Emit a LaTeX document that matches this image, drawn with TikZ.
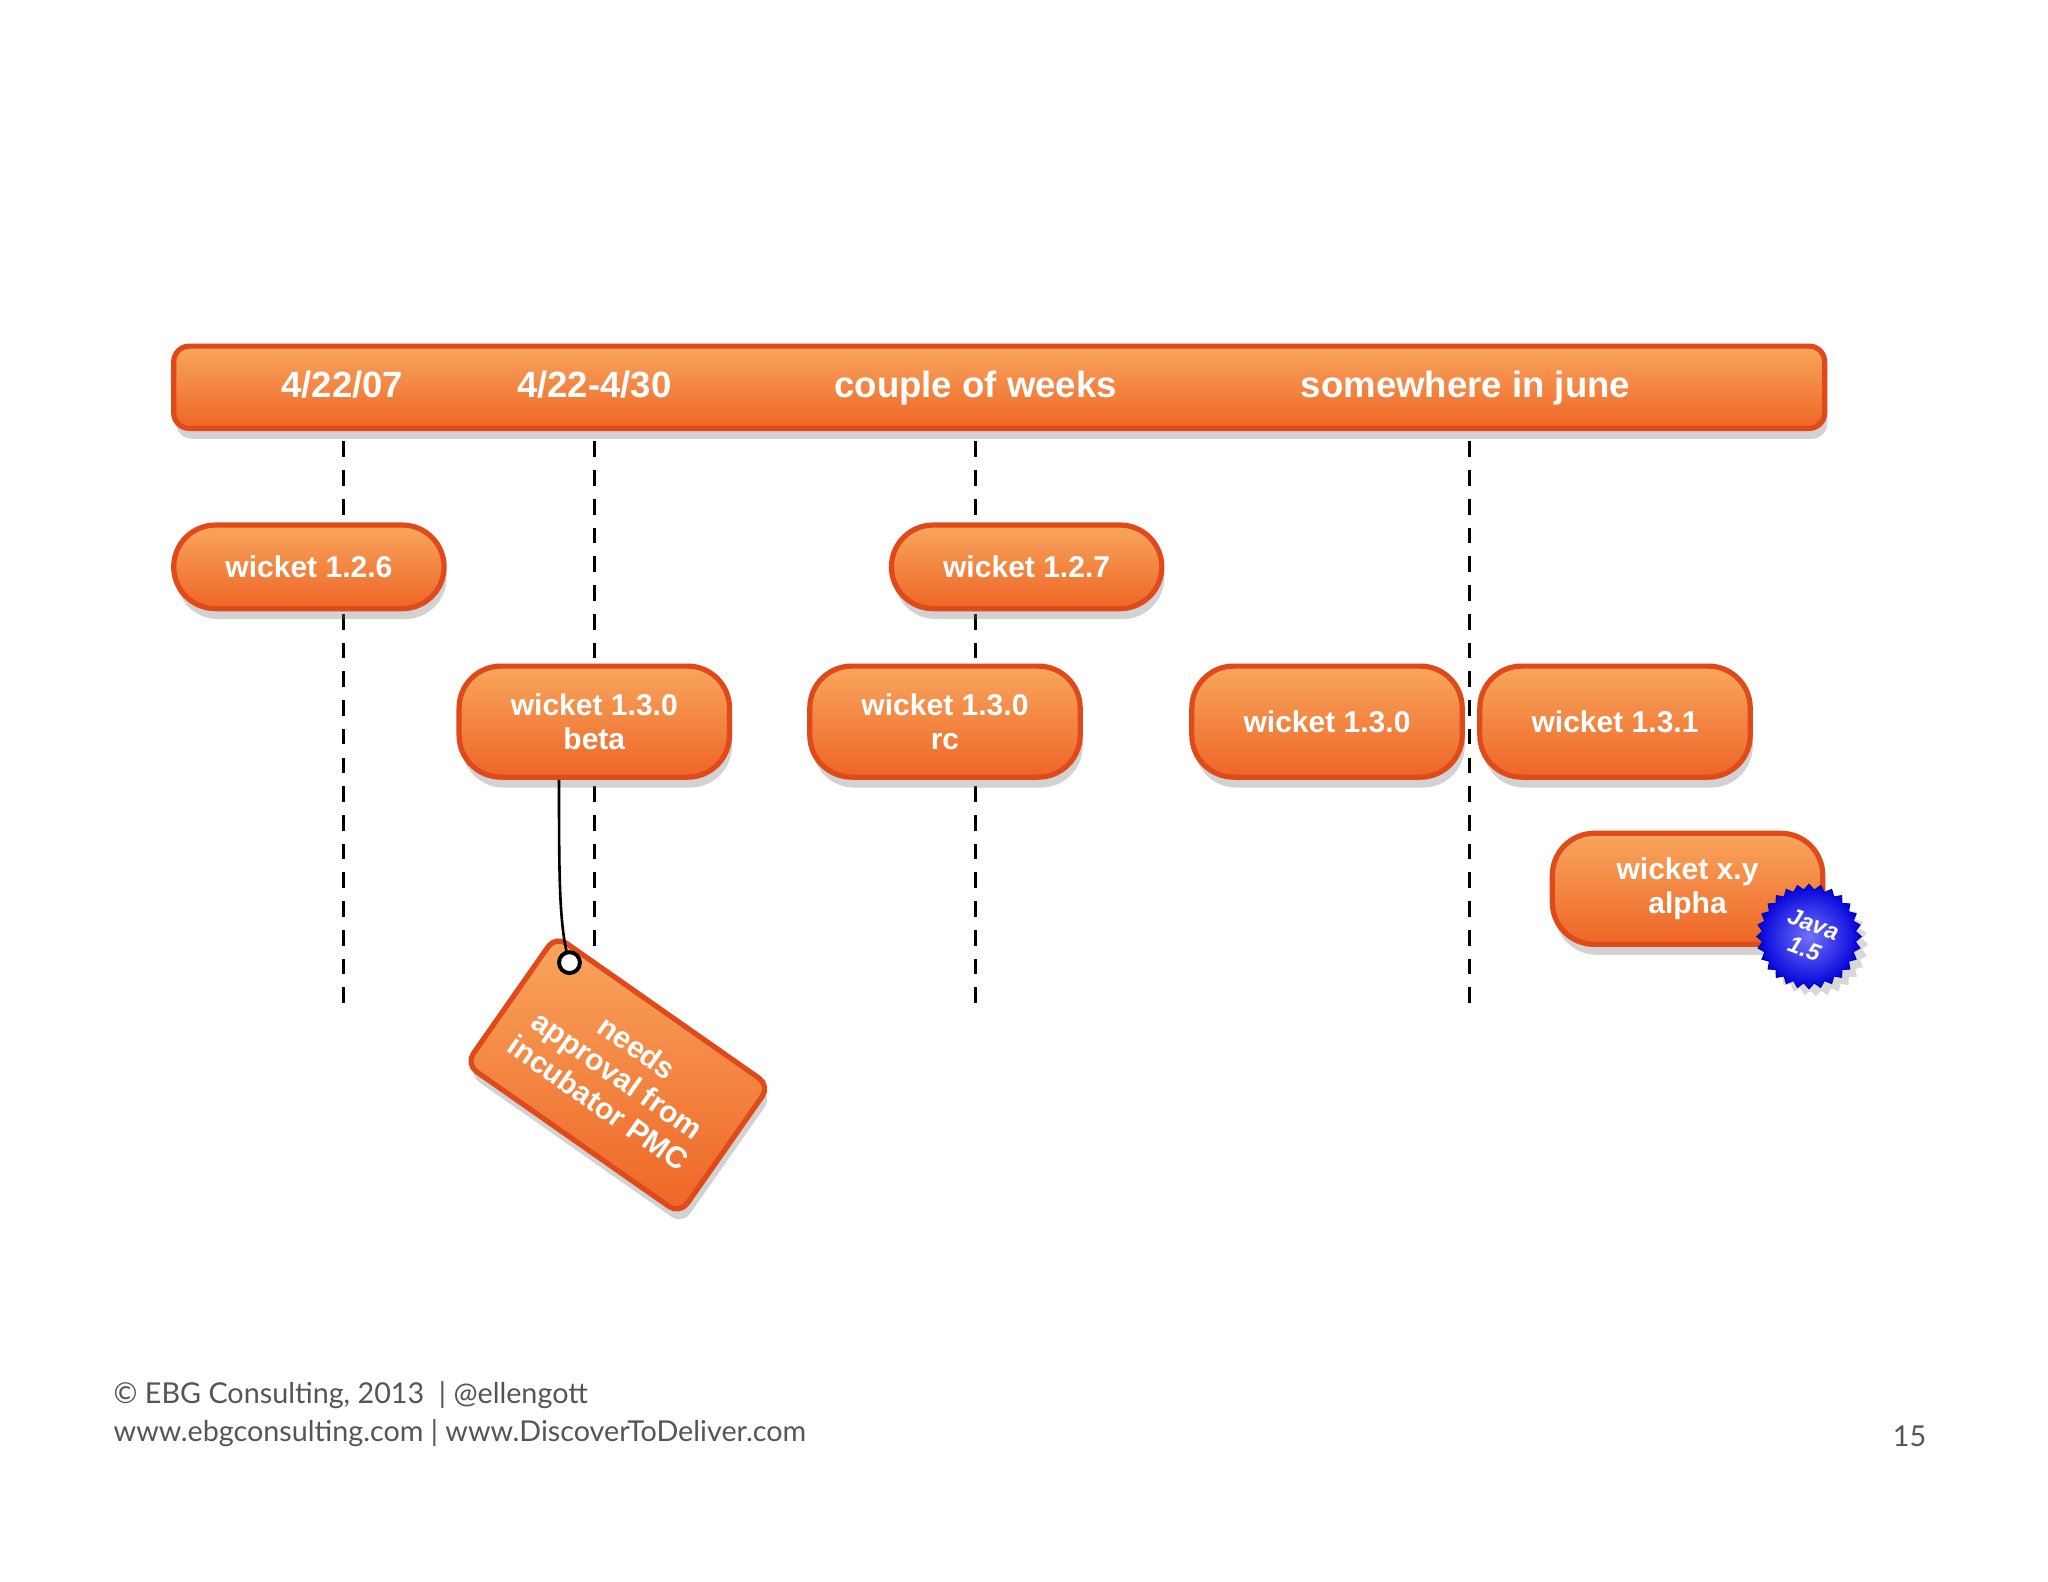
\documentclass[tikz,border=0pt]{standalone}
\usepackage{fontspec}
\setmainfont{Liberation Sans}
\newfontfamily\gill{Lato}
\usetikzlibrary{shadows,shapes.geometric}
\definecolor{olight}{HTML}{F8A65E}
\definecolor{odark}{HTML}{EE6526}
\definecolor{oedge}{HTML}{E04A1A}
\definecolor{foot}{HTML}{555555}
\tikzset{
  x=0.5pt,y=0.5pt,
  orange/.style={draw=oedge,line width=2pt,top color=olight,bottom color=odark,
    drop shadow={opacity=0.35,shadow xshift=1pt,shadow yshift=-4pt},
    text=white,font=\bfseries,align=center,inner sep=0pt},
  pill/.style={orange,rounded corners=16pt,minimum width=103.5pt,font=\bfseries\fontsize{11.5}{13}\selectfont},
  dline/.style={line width=1.1pt,dash pattern=on 6pt off 5pt},
  lbl/.style={text=white,font=\bfseries\fontsize{14}{16}\selectfont,text height=10pt,text depth=3pt},
  ft/.style={text=foot,font=\gill\fontsize{11}{13}\selectfont}
}
\begin{document}
\begin{tikzpicture}
\useasboundingbox[fill=white] (0,0) rectangle (1568,1211);
% dashed lines
\draw[dline] (263,873) -- (263,441);
\draw[dline] (455,873) -- (455,481);
\draw[dline] (747,873) -- (747,441);
\draw[dline] (1125,873) -- (1125,441);
% bar
\node[orange,rounded corners=6pt,minimum width=632pt,minimum height=31.5pt] (bar) at (765,914.5) {};
\node[lbl] (l1) at (262,914) {4/22/07};
\node[lbl] (l2) at (455,914) {4/22-4/30};
\node[lbl] (l3) at (747,914) {couple of weeks};
\node[lbl] (l4) at (1122,914) {somewhere in june};
% pills
\node[pill,minimum height=32pt] (p126) at (236.5,777) {wicket 1.2.6};
\node[pill,minimum height=32pt] (p127) at (786,777) {wicket 1.2.7};
\node[pill,minimum height=42.5pt] (pbeta) at (455,658.5) {wicket 1.3.0\\beta};
\node[pill,minimum height=42.5pt] (prc) at (723.5,658.5) {wicket 1.3.0\\rc};
\node[pill,minimum height=42.5pt] (p130) at (1016,658.5) {wicket 1.3.0};
\node[pill,minimum height=42.5pt] (p131) at (1236.5,658.5) {wicket 1.3.1};
\node[pill,minimum height=42.5pt] (palpha) at (1292,530.5) {wicket x.y\\alpha};
% star
\node[star,star points=28,star point ratio=1.12,minimum size=40pt,draw=blue!70!black,
  inner color=blue!55!white,outer color=blue!85!black,
  drop shadow={opacity=0.3,shadow yshift=-3pt},inner sep=0pt] (star) at (1385,494) {};
\node[text=white,font=\bfseries\itshape\fontsize{9}{10}\selectfont,align=center,rotate=-20] (jt) at (1385,494) {Java\\1.5};
% tag
\node[orange,rounded corners=5pt,minimum width=100pt,minimum height=60pt,rotate=-35,
  font=\bfseries\fontsize{11.5}{13}\selectfont] (tag) at (473,388) {needs\\approval from\\incubator PMC};
\coordinate (hole) at (436,474);
\draw[line width=1pt] (pbeta.south) ++(-27,0) .. controls +(0,-76) and +(-8,26) .. (hole);
\draw[fill=white,line width=1.5pt] (hole) circle (8);
% footer
\node[anchor=west,ft] (f1) at (80,143) {© EBG Consulting, 2013 \ | @ellengott};
\node[anchor=west,ft] (f2) at (80,114) {www.ebgconsulting.com | www.DiscoverToDeliver.com};
\node[ft] (pg) at (1462,111) {15};
\end{tikzpicture}
\end{document}
